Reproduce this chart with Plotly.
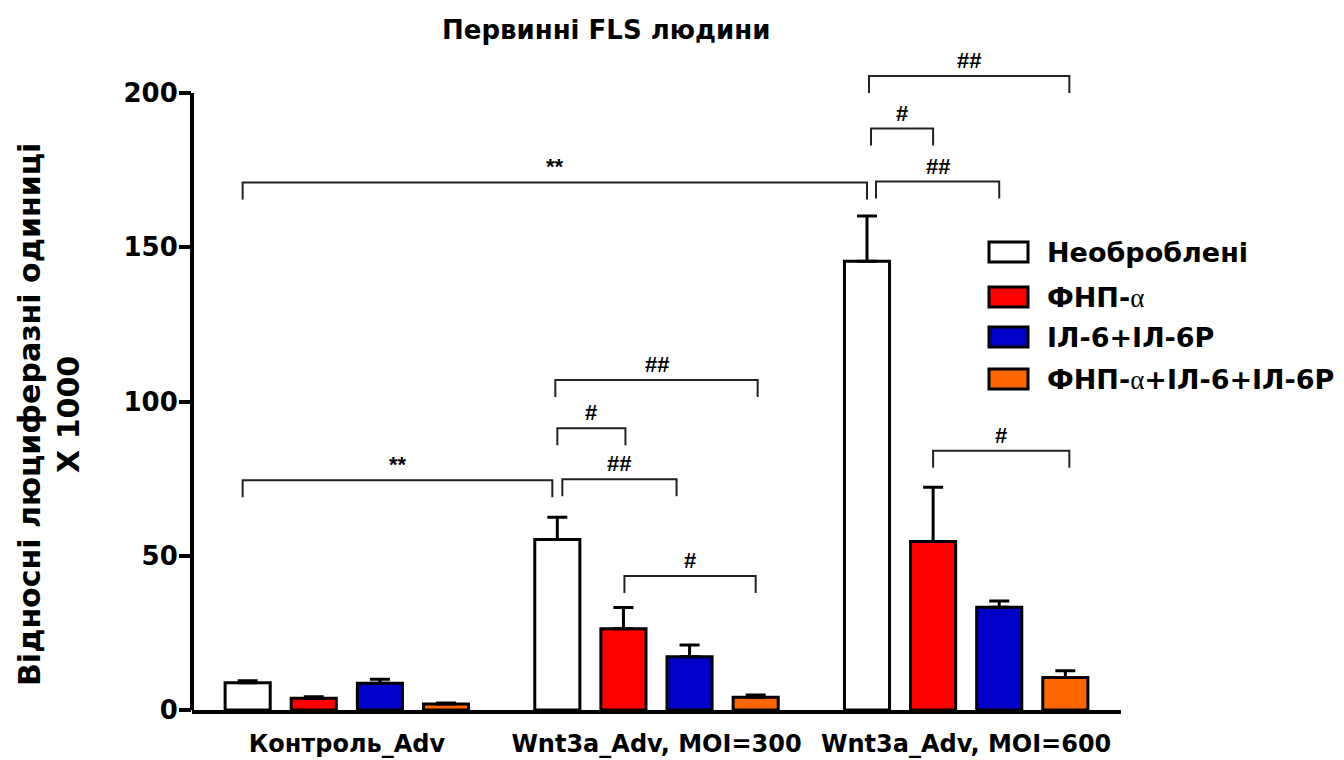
import plotly.graph_objects as go

# ---------------- data ----------------
categories = ["Контроль_Adv", "Wnt3a_Adv, MOI=300", "Wnt3a_Adv, MOI=600"]
series_names = ["Необроблені", "ФНП-α", "ІЛ-6+ІЛ-6Р", "ФНП-α+ІЛ-6+ІЛ-6Р"]
untreated = [8.85, 55.3, 145.5]
untreated_err = [0.65, 7.2, 14.6]
tnf = [3.8, 26.3, 54.6]
tnf_err = [0.5, 6.9, 17.6]
il6 = [8.65, 17.3, 33.3]
il6_err = [1.3, 3.8, 2.0]
combo = [1.95, 4.1, 10.5]
combo_err = [0.35, 0.8, 2.2]
y_ticks = [0, 50, 100, 150, 200]

# significance brackets: (group_a, bar_a, group_b, bar_b, height, label)
brackets = [
    (0, 0, 1, 0, 74.5, "**"),
    (1, 0, 1, 2, 74.8, "##"),
    (1, 0, 1, 1, 91.3, "#"),
    (1, 0, 1, 3, 107.0, "##"),
    (1, 1, 1, 3, 43.4, "#"),
    (0, 0, 2, 0, 171.0, "**"),
    (2, 0, 2, 2, 171.3, "##"),
    (2, 0, 2, 1, 188.5, "#"),
    (2, 0, 2, 3, 205.5, "##"),
    (2, 1, 2, 3, 84.0, "#"),
]
# small pixel nudges of bracket ends (left, right), same order as brackets
nudges = [(-5, -5), (5, -13), (0, 2), (-2, 2), (1, 0), (-5, 0), (9, 0), (4, 0), (2, 4), (0, 4)]

# ---------------- styling / layout ----------------
# the page body adds an 8px offset; the figure is sized/placed to compensate
OFF = 8
W, H = 1344 - OFF, 760 - OFF
PAGE_L, PAGE_T, PAGE_B, PAGE_R = 192, 56, 710, 1121
ML, MT = PAGE_L - OFF, PAGE_T - OFF
MB = (OFF + H) - PAGE_B
MR = (OFF + W) - PAGE_R
PW = W - ML - MR
PH = H - MT - MB
XR = [-0.5, 2.5]
YR = [0, 212]
ppu = PW / (XR[1] - XR[0])

colors = ["#FFFFFF", "#FF0000", "#0000C8", "#FF6600"]
vals = [untreated, tnf, il6, combo]
errs = [untreated_err, tnf_err, il6_err, combo_err]

BARGAP = 0.146
BARGROUPGAP = 0.318
n = len(series_names)
pitch = (1 - BARGAP) / n

FONT = "DejaVu Sans, Liberation Sans, Arial, sans-serif"
MARKFONT = "Liberation Sans, Arial, sans-serif"

fig = go.Figure()
xs = list(range(len(categories)))
for k in range(n):
    fig.add_trace(go.Bar(
        x=xs, y=vals[k], name=series_names[k],
        marker=dict(color=colors[k], line=dict(color="black", width=3)),
        error_y=dict(type="data", array=errs[k], arrayminus=[0] * len(xs),
                     symmetric=False, color="black", thickness=3, width=10),
        showlegend=False,
    ))


def bar_x(g, i):
    return g + (i - (n - 1) / 2) * pitch


shapes = []
annotations = []
tick_depth = 17 / (PH / (YR[1] - YR[0]))
for (ga, ia, gb, ib, h, lab), (na, nb) in zip(brackets, nudges):
    x0 = bar_x(ga, ia) + na / ppu
    x1 = bar_x(gb, ib) + nb / ppu
    path = f"M {x0},{h - tick_depth} L {x0},{h} L {x1},{h} L {x1},{h - tick_depth}"
    shapes.append(dict(type="path", path=path, xref="x", yref="y",
                       line=dict(color="#222222", width=2)))
    annotations.append(dict(x=(x0 + x1) / 2, y=h, xref="x", yref="y", text=lab,
                            showarrow=False, yanchor="bottom", yshift=1,
                            font=dict(family=MARKFONT, size=22, color="black", weight="bold")))

# y axis line (0..200 only)
shapes.append(dict(type="line", xref="paper", yref="y", x0=0, x1=0, y0=0, y1=200,
                   line=dict(color="black", width=4)))


def px2paper(px):
    return (px - PAGE_L) / PW


def py2paper(py):
    return (PAGE_B - py) / PH


# manual legend
leg_rows = [252, 297, 337, 379]
for k in range(n):
    yc = leg_rows[k]
    shapes.append(dict(type="rect", xref="paper", yref="paper",
                       x0=px2paper(989), x1=px2paper(1028),
                       y0=py2paper(yc + 10), y1=py2paper(yc - 10),
                       fillcolor=colors[k], line=dict(color="black", width=3)))
    label = series_names[k].replace(
        "α", "<span style=\"font-family:'Liberation Serif';font-weight:normal\">α</span>")
    annotations.append(dict(x=px2paper(1045), y=py2paper(yc), xref="paper", yref="paper",
                            text=label, showarrow=False, xanchor="left", yanchor="middle",
                            font=dict(family=FONT, size=27, color="black", weight="bold")))

# title
annotations.append(dict(x=px2paper(606), y=py2paper(30), xref="paper", yref="paper",
                        text="Первинні FLS людини", showarrow=False,
                        xanchor="center", yanchor="middle",
                        font=dict(family=FONT, size=26, color="black", weight="bold")))
# y-axis title
annotations.append(dict(x=px2paper(49), y=py2paper(415), xref="paper", yref="paper",
                        text="Відносні люциферазні одиниці<br>X 1000", showarrow=False,
                        textangle=-90, xanchor="center", yanchor="middle", align="center",
                        font=dict(family=FONT, size=30, color="black", weight="bold")))

fig.update_layout(
    width=W, height=H,
    margin=dict(l=ML, r=MR, t=MT, b=MB, autoexpand=False),
    paper_bgcolor="white", plot_bgcolor="white",
    barmode="group", bargap=BARGAP, bargroupgap=BARGROUPGAP,
    shapes=shapes, annotations=annotations,
    showlegend=False,
    xaxis=dict(range=XR, tickvals=xs, ticktext=categories, showgrid=False,
               zeroline=False, showline=True, linecolor="black", linewidth=4,
               ticks="", ticklabelstandoff=9,
               tickfont=dict(family=FONT, size=24, color="black", weight="bold")),
    yaxis=dict(range=YR, tickvals=y_ticks, showgrid=False, zeroline=False,
               showline=False, ticks="outside", ticklen=12, tickwidth=4,
               tickcolor="black", ticklabelstandoff=-4,
               tickfont=dict(family=FONT, size=26, color="black", weight="bold")),
)

fig.write_html("out.html")
